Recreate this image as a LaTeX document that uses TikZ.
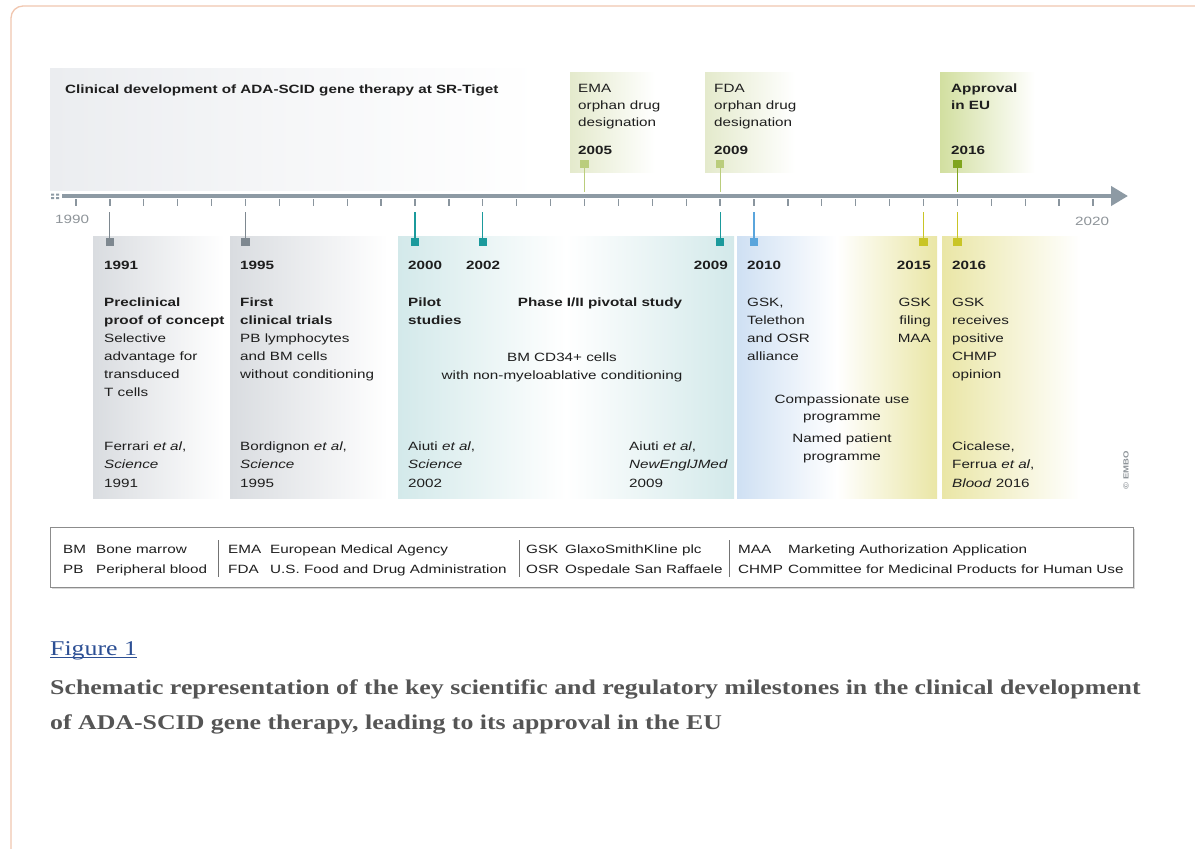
\documentclass[tikz,border=0pt]{standalone}
\usepackage{fontspec}
\setmainfont{Liberation Sans}[FakeStretch=1.27]
\newfontfamily\capfont{Liberation Serif}[FakeStretch=1.23]
\usetikzlibrary{arrows.meta}
\definecolor{frameor}{HTML}{F1C7B0}
\definecolor{axisgray}{HTML}{8D9AA4}
\definecolor{tickgray}{HTML}{8A959E}
\definecolor{yrgray}{HTML}{8E9499}
\definecolor{sqgray}{HTML}{7E8890}
\definecolor{teal}{HTML}{1B9A9C}
\definecolor{blu}{HTML}{5AA5DC}
\definecolor{yel}{HTML}{C9C526}
\definecolor{lgreen}{HTML}{BACD7C}
\definecolor{dgreen}{HTML}{80A51E}
\definecolor{txt}{HTML}{1E1E1E}
\definecolor{captxt}{HTML}{555555}
\definecolor{linkblue}{HTML}{2C4F94}
\definecolor{bggray}{HTML}{EBEDF0}
\definecolor{p1gray}{HTML}{D9DCE0}
\definecolor{pteal}{HTML}{D3E9EA}
\definecolor{pblue}{HTML}{CFE0F3}
\definecolor{pyel}{HTML}{EAE6A6}
\definecolor{pgreenA}{HTML}{E4EACC}
\definecolor{pgreenB}{HTML}{D2DFA0}
\begin{document}
\begin{tikzpicture}[x=1pt,y=-1pt,
  t/.style={anchor=base west,inner sep=0pt,font=\fontsize{12}{15}\selectfont,text=txt},
  tb/.style={t,font=\fontsize{12}{15}\selectfont\bfseries},
  tr/.style={t,anchor=base east},
  tbr/.style={tb,anchor=base east},
  tc/.style={t,anchor=base},
  tbc/.style={tb,anchor=base},
  lg/.style={t,font=\fontsize{12}{15}\selectfont},
  sq/.style={rectangle,minimum size=8.5pt,inner sep=0pt,draw=none},
  stem/.style={line width=1.1pt},
  captext/.style={anchor=base west,inner sep=0pt,font=\capfont\bfseries\fontsize{21}{24}\selectfont,text=captxt},
  yr/.style={anchor=base west,inner sep=0pt,font=\fontsize{12}{15}\selectfont,text=yrgray}]
\useasboundingbox (0,0) rectangle (1195,849);
\fill[white] (0,0) rectangle (1195,849);
% outer frame
\draw[frameor,line width=1.3pt,rounded corners=12pt] (11,880) -- (11,6) -- (1230,6);
% background of top band
\shade[left color=bggray,right color=white,middle color=bggray!45] (50,68) rectangle (540,190);
% upper boxes
\shade[left color=pgreenA,right color=white] (570,72) rectangle (655,172);
\shade[left color=pgreenA,right color=white] (705,72) rectangle (795,172);
\shade[left color=pgreenB,right color=white] (940,72) rectangle (1035,172);
% lower panels
\shade[left color=p1gray,right color=white] (93,236) rectangle (224,498);
\shade[left color=p1gray,right color=white] (230,236) rectangle (388,498);
\shade[left color=pteal,right color=pteal,middle color=white] (398,236) rectangle (734,498);
\shade[left color=pblue,right color=pyel,middle color=white] (737,236) rectangle (937,498);
\shade[left color=pyel,right color=white] (942,236) rectangle (1080,498);
% axis
\coordinate (axL) at (62,196);
\coordinate (axR) at (1128,196);
\draw[axisgray,line width=4.5pt,-{Triangle[length=17pt,width=19pt]}] (axL) -- (axR);
\fill[axisgray] (51,193.5) rectangle (54,195.5) (51,197) rectangle (54,199)
  (56,193.5) rectangle (59,195.5) (56,197) rectangle (59,199);
\foreach \i in {0,...,30} {\draw[tickgray,line width=1.3pt] ({76+\i*33.9},199) -- ({76+\i*33.9},206);}
\foreach \i in {0,10,20,30} {\draw[tickgray,line width=2.6pt] ({76+\i*33.9},199) -- ({76+\i*33.9},206);}
\node[yr] (y1990) at (55,223) {1990};
\node[yr] (y2020) at (1075,225) {2020};
% lower stems and squares
\foreach \n/\x/\c in {1991/109.9/sqgray,1995/245.5/sqgray,2000/415/teal,2002/482.8/teal,2009/720.1/teal,2010/754/blu,2015/923.5/yel,2016/957.4/yel} {
  \coordinate (t\n) at (\x,212);
  \node[sq,fill=\c] (s\n) at (\x,242) {};
  \draw[stem,\c] (t\n) -- (s\n);
}
% upper stems and squares
\foreach \n/\x/\c in {2005/584.5/lgreen,2009/720.1/lgreen,2016/957.4/dgreen} {
  \coordinate (u\n) at (\x,192);
  \node[sq,fill=\c] (q\n) at (\x,164) {};
  \draw[stem,\c] (q\n) -- (u\n);
}
% title
\node[tb] (title) at (65,93) {Clinical development of ADA-SCID gene therapy at SR-Tiget};
% upper labels
\node[t] (ema1) at (578,92) {EMA};
\node[t] (ema2) at (578,109) {orphan drug};
\node[t] (ema3) at (578,126) {designation};
\node[tb] (ema4) at (578,154) {2005};
\node[t] (fda1) at (714,92) {FDA};
\node[t] (fda2) at (714,109) {orphan drug};
\node[t] (fda3) at (714,126) {designation};
\node[tb] (fda4) at (714,154) {2009};
\node[tb] (app1) at (951,92) {Approval};
\node[tb] (app2) at (951,109) {in EU};
\node[tb] (app4) at (951,154) {2016};
% panel 1
\node[tb] (p1y) at (104,269) {1991};
\node[tb] (p1a) at (104,306) {Preclinical};
\node[tb] (p1b) at (104,324) {proof of concept};
\node[t] (p1c) at (104,342) {Selective};
\node[t] (p1d) at (104,360) {advantage for};
\node[t] (p1e) at (104,378) {transduced};
\node[t] (p1f) at (104,396) {T cells};
\node[t] (p1g) at (104,450) {Ferrari \textit{et al},};
\node[t] (p1h) at (104,468) {\textit{Science}};
\node[t] (p1i) at (104,487) {1991};
% panel 2
\node[tb] (p2y) at (240,269) {1995};
\node[tb] (p2a) at (240,306) {First};
\node[tb] (p2b) at (240,324) {clinical trials};
\node[t] (p2c) at (240,342) {PB lymphocytes};
\node[t] (p2d) at (240,360) {and BM cells};
\node[t] (p2e) at (240,378) {without conditioning};
\node[t] (p2g) at (240,450) {Bordignon \textit{et al},};
\node[t] (p2h) at (240,468) {\textit{Science}};
\node[t] (p2i) at (240,487) {1995};
% panel 3
\node[tb] (p3y1) at (408,269) {2000};
\node[tb] (p3y2) at (466,269) {2002};
\node[tbr] (p3y3) at (728,269) {2009};
\node[tb] (p3a) at (408,306) {Pilot};
\node[tb] (p3b) at (408,324) {studies};
\node[tbc] (p3c) at (600,306) {Phase I/II pivotal study};
\node[tc] (p3d) at (562,361) {BM CD34+ cells};
\node[tc] (p3e) at (562,379) {with non-myeloablative conditioning};
\node[t] (p3g) at (408,450) {Aiuti \textit{et al},};
\node[t] (p3h) at (408,468) {\textit{Science}};
\node[t] (p3i) at (408,487) {2002};
\node[t] (p3j) at (629,450) {Aiuti \textit{et al},};
\node[t] (p3k) at (629,468) {\textit{NewEnglJMed}};
\node[t] (p3l) at (629,487) {2009};
% panel 4
\node[tb] (p4y1) at (747,269) {2010};
\node[tbr] (p4y2) at (931,269) {2015};
\node[t] (p4a) at (747,306) {GSK,};
\node[t] (p4b) at (747,324) {Telethon};
\node[t] (p4c) at (747,342) {and OSR};
\node[t] (p4d) at (747,360) {alliance};
\node[tr] (p4e) at (931,306) {GSK};
\node[tr] (p4f) at (931,324) {filing};
\node[tr] (p4g) at (931,342) {MAA};
\node[tc] (p4h) at (842,403) {Compassionate use};
\node[tc] (p4i) at (842,420) {programme};
\node[tc] (p4j) at (842,442) {Named patient};
\node[tc] (p4k) at (842,460) {programme};
% panel 5
\node[tb] (p5y) at (952,269) {2016};
\node[t] (p5a) at (952,306) {GSK};
\node[t] (p5b) at (952,324) {receives};
\node[t] (p5c) at (952,342) {positive};
\node[t] (p5d) at (952,360) {CHMP};
\node[t] (p5e) at (952,378) {opinion};
\node[t] (p5g) at (952,450) {Cicalese,};
\node[t] (p5h) at (952,468) {Ferrua \textit{et al},};
\node[t] (p5i) at (952,487) {\textit{Blood} 2016};
\node[rotate=90,inner sep=0pt,font=\bfseries\fontsize{7.5}{9}\selectfont,text=yrgray] (embo) at (1126,470) {\textcopyright\ EMBO};
% legend
\fill[black!15] (52,529) rectangle (1135,589);
\draw[black!45,fill=white,line width=0.9pt] (50,527) rectangle (1133,587);
\draw[black!55,line width=0.8pt] (218,540) -- (218,577);
\draw[black!55,line width=0.8pt] (519,540) -- (519,577);
\draw[black!55,line width=0.8pt] (729,540) -- (729,577);
\node[lg] (l1a) at (63,553) {BM};
\node[lg] (l1b) at (96,553) {Bone marrow};
\node[lg] (l1c) at (63,573) {PB};
\node[lg] (l1d) at (96,573) {Peripheral blood};
\node[lg] (l2a) at (228,553) {EMA};
\node[lg] (l2b) at (270,553) {European Medical Agency};
\node[lg] (l2c) at (228,573) {FDA};
\node[lg] (l2d) at (270,573) {U.S. Food and Drug Administration};
\node[lg] (l3a) at (526,553) {GSK};
\node[lg] (l3b) at (565,553) {GlaxoSmithKline plc};
\node[lg] (l3c) at (526,573) {OSR};
\node[lg] (l3d) at (565,573) {Ospedale San Raffaele};
\node[lg] (l4a) at (738,553) {MAA};
\node[lg] (l4b) at (788,553) {Marketing Authorization Application};
\node[lg] (l4c) at (738,573) {CHMP};
\node[lg] (l4d) at (788,573) {Committee for Medicinal Products for Human Use};
% caption
\node[anchor=base west,inner sep=0pt,font=\capfont\fontsize{21}{24}\selectfont,text=linkblue] (fig) at (50,655) {Figure 1};
\draw[linkblue,line width=1pt] ([yshift=-2.5pt]fig.base west) -- ([yshift=-2.5pt]fig.base east);
\node[captext] (cap1) at (50,694) {Schematic representation of the key scientific and regulatory milestones in the clinical development};
\node[captext] (cap2) at (50,729) {of ADA-SCID gene therapy, leading to its approval in the EU};
\end{tikzpicture}
\end{document}
